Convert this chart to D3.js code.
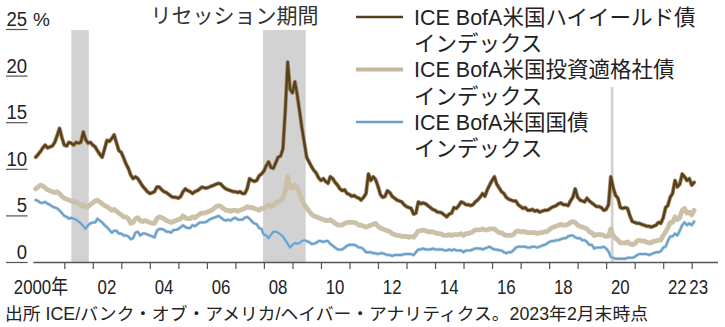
<!DOCTYPE html>
<html><head><meta charset="utf-8">
<script src="https://cdn.jsdelivr.net/npm/d3@7"></script>
<style>
html,body{margin:0;padding:0;background:#fff;}
svg{display:block;font-family:"Liberation Sans","Noto Sans CJK JP",sans-serif;}
</style></head>
<body>
<svg id="chart" width="725" height="327"></svg>
<script>
// ---- DATA (monthly, Jan 2000 - Feb 2023, %) ----
const startMonth = "2000-01";
const highYield = [
 11.3,11.6,11.9,12.3,12.6,12.3,12.4,12.5,12.9,13.6,14.4,13.4,
 12.6,12.5,12.9,12.8,12.6,12.9,12.8,12.9,14.0,13.2,12.8,12.9,
 12.6,12.4,12.0,11.6,11.3,12.2,13.1,13.0,13.3,13.7,12.8,12.0,
 11.8,11.2,10.6,10.1,9.4,9.0,9.2,9.0,8.6,8.2,7.9,7.6,
 7.4,7.5,7.6,8.1,8.1,7.8,7.6,7.5,7.3,7.1,7.0,7.0,
 6.9,7.1,7.6,7.9,7.7,7.6,7.4,7.6,7.7,7.9,8.1,8.0,
 8.0,8.1,8.2,8.3,8.4,8.5,8.4,8.1,7.9,7.8,7.7,7.6,
 7.6,7.5,7.6,7.4,7.4,7.9,9.0,8.8,8.7,8.8,9.3,9.5,
 9.8,10.4,10.8,10.2,10.1,10.7,11.3,11.4,12.2,16.3,21.5,18.6,
 18.2,19.4,18.1,16.3,14.5,12.9,11.3,10.8,10.3,9.9,9.6,9.1,
 8.8,9.0,8.7,8.5,9.2,9.0,8.6,8.3,7.9,7.7,7.8,7.4,
 7.3,7.1,7.2,7.0,6.9,6.7,7.0,7.4,9.5,8.8,9.2,8.9,
 8.2,7.3,7.0,7.1,7.7,7.5,7.1,6.9,6.7,6.6,6.5,6.2,
 6.0,5.9,5.8,5.2,5.3,6.5,6.3,6.4,6.3,6.1,5.9,5.7,
 5.6,5.4,5.4,5.3,5.1,4.9,5.2,5.3,5.9,5.8,6.1,6.5,
 6.4,6.2,6.2,6.1,6.2,6.5,6.7,7.0,7.4,7.1,7.8,8.3,
 8.8,9.2,8.4,8.0,7.6,7.4,7.0,6.8,6.7,6.6,6.6,6.2,
 6.0,5.8,5.9,5.6,5.6,5.7,5.5,5.6,5.4,5.5,5.6,5.6,
 5.7,5.9,6.0,6.1,6.3,6.4,6.2,6.2,6.1,6.6,7.0,7.9,
 7.0,6.7,6.6,6.5,6.9,6.6,6.4,6.2,6.0,6.0,5.9,5.6,
 5.7,6.2,9.2,8.0,7.2,6.9,5.9,5.8,5.9,5.8,5.0,4.4,
 4.3,4.2,4.2,4.1,4.0,3.9,3.9,3.8,3.9,4.0,4.3,4.2,
 4.8,5.9,6.1,7.0,7.4,8.8,8.1,8.4,9.5,9.2,8.8,9.0,
 8.3,8.6
];
const investmentGrade = [
 7.9,8.1,8.3,8.2,8.0,7.8,7.7,7.6,7.5,7.6,7.4,7.1,
 6.9,6.8,6.7,6.6,6.5,6.5,6.3,6.1,6.2,5.9,6.0,6.2,
 6.4,6.6,6.7,6.5,6.3,6.1,6.0,5.8,5.6,5.7,5.5,5.3,
 5.1,4.9,4.9,4.7,4.2,4.3,4.7,4.8,4.5,4.4,4.5,4.4,
 4.3,4.2,4.2,4.7,4.9,4.8,4.7,4.5,4.4,4.3,4.4,4.5,
 4.6,4.7,5.0,4.8,4.7,4.7,4.9,4.8,5.0,5.2,5.3,5.3,
 5.4,5.5,5.6,5.8,6.0,6.1,6.0,5.8,5.6,5.6,5.5,5.6,
 5.6,5.5,5.6,5.7,5.8,6.0,5.9,5.9,5.8,5.7,5.6,5.8,
 5.8,6.0,6.2,6.0,6.1,6.4,6.5,6.6,6.9,7.7,9.2,8.1,
 8.0,8.3,8.1,7.4,6.8,6.2,5.9,5.5,5.2,5.0,4.9,4.8,
 4.7,4.6,4.5,4.5,4.6,4.4,4.2,4.0,4.0,4.0,4.2,4.3,
 4.3,4.3,4.3,4.2,4.0,4.0,3.9,3.8,3.9,4.0,4.1,4.2,
 3.9,3.7,3.6,3.5,3.4,3.3,3.1,3.0,2.9,2.9,2.8,2.8,
 2.8,2.7,2.8,2.7,3.0,3.4,3.4,3.5,3.4,3.3,3.3,3.3,
 3.2,3.1,3.1,3.0,2.9,2.9,3.0,2.9,3.0,3.0,3.0,3.1,
 2.9,3.1,3.1,3.2,3.3,3.5,3.5,3.5,3.6,3.5,3.5,3.6,
 3.6,3.6,3.4,3.2,3.2,3.0,2.9,2.9,2.9,3.0,3.3,3.4,
 3.3,3.3,3.3,3.2,3.2,3.2,3.2,3.1,3.2,3.2,3.3,3.3,
 3.5,3.7,3.8,3.9,4.0,4.1,4.0,4.0,4.1,4.3,4.4,4.3,
 4.0,3.9,3.8,3.7,3.6,3.3,3.2,2.9,3.0,3.0,3.0,2.9,
 2.8,2.8,3.6,2.9,2.6,2.4,2.1,2.1,2.1,2.2,2.0,1.9,
 2.0,2.3,2.4,2.3,2.3,2.2,2.1,2.1,2.3,2.3,2.4,2.4,
 2.9,3.3,3.7,4.3,4.3,4.9,4.6,4.8,5.6,5.8,5.3,5.4,
 5.1,5.6
];
const treasury = [
 6.7,6.6,6.4,6.4,6.5,6.3,6.2,6.0,5.9,5.8,5.6,5.3,
 5.0,4.9,4.7,4.8,4.7,4.6,4.4,4.2,3.9,3.6,4.0,4.2,
 4.3,4.3,4.7,4.5,4.3,4.0,3.8,3.5,3.2,3.4,3.4,3.1,
 3.1,2.9,2.9,2.8,2.5,2.6,3.2,3.3,2.9,3.1,3.1,3.0,
 2.9,2.8,2.7,3.4,3.6,3.6,3.5,3.3,3.3,3.2,3.5,3.5,
 3.6,3.8,4.0,3.8,3.7,3.7,4.0,3.9,4.1,4.3,4.3,4.3,
 4.4,4.6,4.7,4.8,4.9,5.0,4.8,4.6,4.5,4.6,4.5,4.7,
 4.8,4.6,4.6,4.6,4.8,4.9,4.7,4.4,4.2,4.1,3.7,3.6,
 3.0,2.9,2.6,3.0,3.3,3.3,3.2,3.0,2.8,2.4,2.0,1.6,
 1.9,2.1,2.0,2.1,2.3,2.4,2.3,2.2,2.0,2.0,2.1,2.3,
 2.3,2.2,2.3,2.3,2.0,1.8,1.6,1.4,1.4,1.4,1.6,1.8,
 1.9,1.9,1.9,1.8,1.6,1.6,1.4,1.1,1.1,1.1,1.0,1.0,
 0.9,1.0,1.0,0.9,0.8,0.8,0.7,0.8,0.8,0.8,0.8,0.9,
 0.9,0.9,0.9,0.8,1.1,1.4,1.4,1.5,1.4,1.4,1.4,1.5,
 1.4,1.4,1.4,1.4,1.3,1.3,1.4,1.3,1.4,1.3,1.3,1.3,
 1.1,1.3,1.3,1.3,1.4,1.5,1.5,1.5,1.4,1.5,1.6,1.7,
 1.5,1.4,1.4,1.3,1.3,1.1,1.0,1.1,1.1,1.3,1.6,1.7,
 1.7,1.7,1.7,1.6,1.6,1.7,1.7,1.6,1.7,1.8,1.9,2.0,
 2.2,2.3,2.3,2.4,2.4,2.5,2.6,2.6,2.8,2.9,2.9,2.7,
 2.6,2.6,2.4,2.4,2.2,1.9,1.9,1.5,1.6,1.6,1.6,1.7,
 1.5,1.2,0.6,0.5,0.4,0.4,0.4,0.4,0.4,0.5,0.5,0.5,
 0.6,0.8,0.9,0.9,0.9,0.9,0.8,0.9,1.0,1.1,1.1,1.2,
 1.6,1.7,2.3,2.8,2.8,3.1,2.9,3.4,4.0,4.3,4.0,4.2,
 4.0,4.4
];
const recessions = [["2001-04-01","2001-11-10"],["2007-12-20","2009-06-20"],["2020-03-01","2020-04-05"]];
const yTicks = [0,5,10,15,20,25];
const xTickYears = d3.range(2001, 2024);
const xLabels = [["2000-07-01","2000年"],["2002-07-01","02"],["2004-07-01","04"],["2006-07-01","06"],["2008-07-01","08"],["2010-07-01","10"],["2012-07-01","12"],["2014-07-01","14"],["2016-07-01","16"],["2018-07-01","18"],["2020-07-01","20"],["2022-07-01","22"],["2023-04-01","23"]];
const seriesNames = ["ICE BofA米国ハイイールド債","ICE BofA米国投資適格社債","ICE BofA米国国債"];
const legendSub = "インデックス";
const titleText = "リセッション期間";
const sourceText = "出所 ICE/バンク・オブ・アメリカ/ヘイバー・アナリティクス。2023年2月末時点";

// ---- CHART ----
const svg = d3.select("#chart");
const parse = d3.timeParse("%Y-%m-%d");
const t0 = d3.timeParse("%Y-%m")(startMonth);
const dates = highYield.map((_, i) => d3.timeMonth.offset(t0, i));

const x = d3.scaleTime().domain([new Date(2001,0,1), new Date(2023,0,1)]).range([64.3, 691.7]);
const y = d3.scaleLinear().domain([0, 25]).range([262.5, 29.5]);
const axisY = y(0);

// recession shading
const recG = svg.append("g");
recG.selectAll("rect").data(recessions).join("rect")
  .attr("x", d => x(parse(d[0])))
  .attr("width", d => Math.max(2, x(parse(d[1])) - x(parse(d[0]))))
  .attr("y", (d,i) => i === 2 ? 87 : 30)
  .attr("height", (d,i) => axisY - (i === 2 ? 87 : 30))
  .attr("fill", "#d2d2d2");

// y-axis ticks (underline style)
const yg = svg.append("g");
yg.selectAll("line").data(yTicks).join("line")
  .attr("x1", 6).attr("x2", 27.5)
  .attr("y1", d => y(d)).attr("y2", d => y(d))
  .attr("stroke", "#555").attr("stroke-width", 1.2);
yg.selectAll("text").data(yTicks).join("text")
  .attr("x", 27).attr("y", d => y(d) - 3.5)
  .attr("text-anchor", "end").attr("font-size", 19.5).attr("fill", "#222")
  .text(d => d)
  .each(function(){
    const w = this.getComputedTextLength();
    d3.select(this).attr("textLength", w*0.95).attr("lengthAdjust","spacingAndGlyphs");
  });
svg.append("text").attr("x", 33).attr("y", y(25) - 3.5)
  .attr("font-size", 19).attr("fill", "#222").text("%");

// x axis
const xAxis = d3.axisBottom(x)
  .tickValues(xTickYears.map(yr => new Date(yr,0,1)))
  .tickSize(6.5).tickFormat("");
const xg = svg.append("g").attr("transform", `translate(0,${axisY})`).call(xAxis);
xg.select(".domain").remove();
xg.selectAll(".tick line").attr("stroke", "#555").attr("stroke-width", 1.2);
svg.append("line").attr("x1", 33.3).attr("x2", 718).attr("y1", axisY).attr("y2", axisY)
  .attr("stroke", "#555").attr("stroke-width", 1.3);

const xl = svg.append("g");
xl.selectAll("text").data(xLabels).join("text")
  .attr("x", (d,i) => x(parse(d[0])) + (i === 0 ? -9 : 0))
  .attr("y", 293.5)
  .attr("text-anchor", "middle").attr("font-size", 20.5).attr("fill", "#222")
  .text(d => d[1])
  .each(function(){
    const w = this.getComputedTextLength();
    d3.select(this).attr("textLength", w*0.82).attr("lengthAdjust","spacingAndGlyphs");
  });

// lines
const line = d3.line().x((d,i) => x(dates[i])).y(d => y(d));
const lg = svg.append("g").attr("fill","none").attr("stroke-linejoin","round").attr("stroke-linecap","round");
lg.append("path").datum(investmentGrade).attr("d", line).attr("stroke", "#cbc0a8").attr("stroke-width", 4.8);
lg.append("path").datum(treasury).attr("d", line).attr("stroke", "#b9d4e8").attr("stroke-width", 3.4);
lg.append("path").datum(treasury).attr("d", line).attr("stroke", "#6a9fc8").attr("stroke-width", 2);
lg.append("path").datum(highYield).attr("d", line).attr("stroke", "#a98c63").attr("stroke-width", 4);
lg.append("path").datum(highYield).attr("d", line).attr("stroke", "#56401f").attr("stroke-width", 2.4);

// title
svg.append("text").attr("x", 234.5).attr("y", 23).attr("text-anchor","middle")
  .attr("font-size", 21).attr("fill", "#333").text(titleText);

// legend
const legColors = [["#56401f",2.6],["#c4b89e",3.8],["#6a9fc8",2.6]];
const leg = svg.append("g");
seriesNames.forEach((name, i) => {
  const yy = 17 + i*52.5;
  leg.append("line").attr("x1", 356).attr("x2", 403).attr("y1", yy).attr("y2", yy)
    .attr("stroke", legColors[i][0]).attr("stroke-width", legColors[i][1]);
  leg.append("text").attr("x", 414).attr("y", yy + 7.5).attr("font-size", 21.5).attr("fill", "#222").text(name);
  leg.append("text").attr("x", 414).attr("y", yy + 34).attr("font-size", 21.5).attr("fill", "#222").text(legendSub);
});

// source
svg.append("text").attr("x", 5).attr("y", 319.5).attr("font-size", 17.5).attr("fill", "#222")
  .attr("textLength", 643).attr("lengthAdjust", "spacingAndGlyphs").text(sourceText);
</script>
</body></html>
